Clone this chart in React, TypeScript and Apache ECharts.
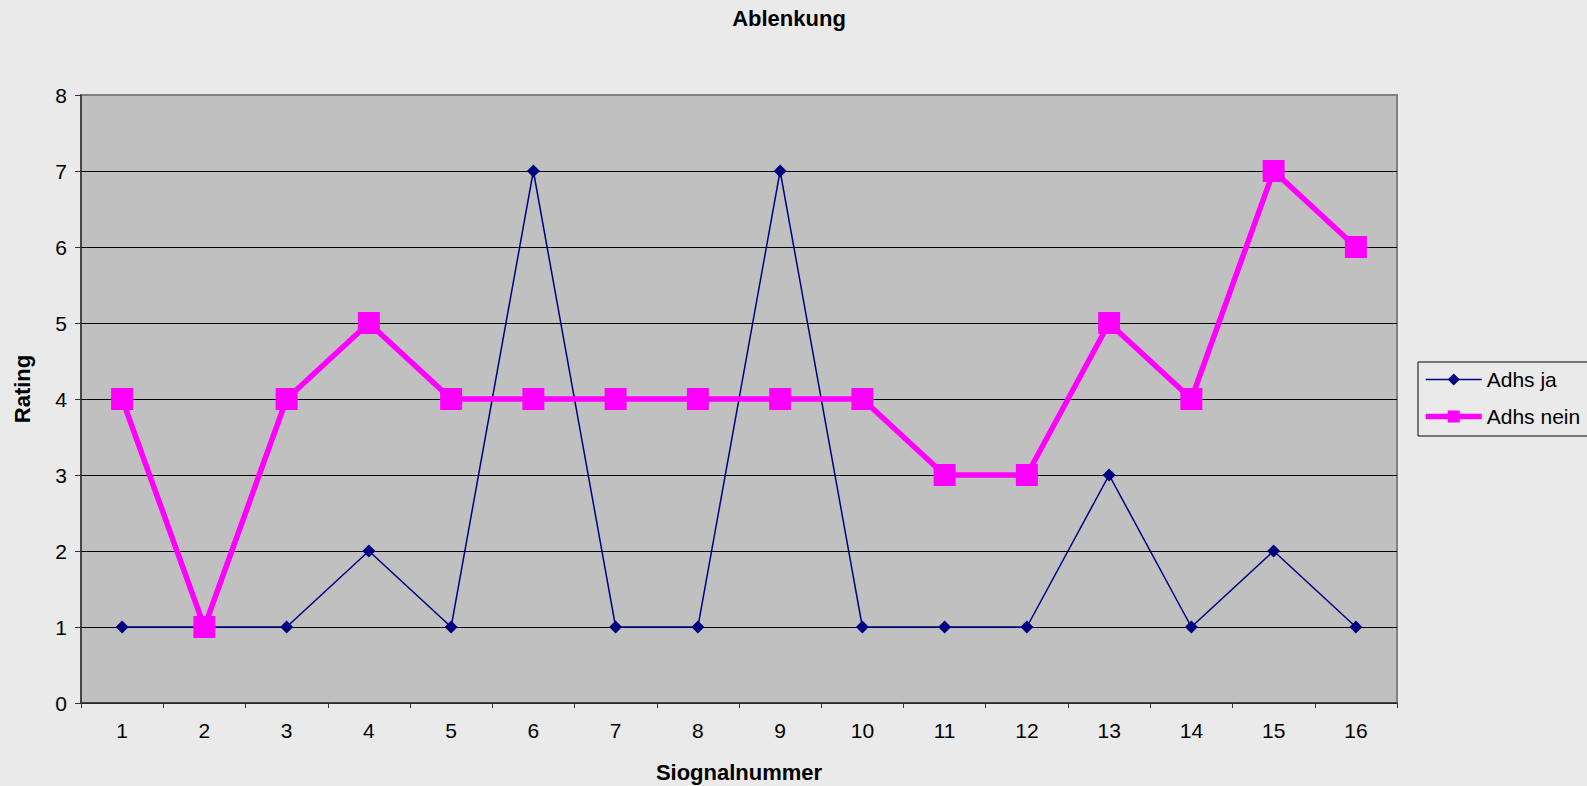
import React, { useEffect, useRef } from "react";
import * as echarts from "echarts";

const categories = ["1", "2", "3", "4", "5", "6", "7", "8", "9", "10", "11", "12", "13", "14", "15", "16"];
const adhsJa = [1, 1, 1, 2, 1, 7, 1, 1, 7, 1, 1, 1, 3, 1, 2, 1];
const adhsNein = [4, 1, 4, 5, 4, 4, 4, 4, 4, 4, 3, 3, 5, 4, 7, 6];
const seriesNames = ["Adhs ja", "Adhs nein"];
const titleText = "Ablenkung";
const xName = "Siognalnummer";
const yName = "Rating";

const FONT = "'Liberation Sans', Arial, sans-serif";

export default function App() {
  const ref = useRef<HTMLDivElement>(null);
  useEffect(() => {
    document.body.style.margin = "0";
    const chart = echarts.init(ref.current!, null, { renderer: "svg" });
    chart.setOption({
      animation: false,
      backgroundColor: "#eaeaea",
      textStyle: { fontFamily: FONT },
      graphic: [
        {
          type: "text",
          x: 789,
          y: 18,
          style: { text: titleText, fontSize: 22, fontWeight: "bold", fontFamily: FONT, fill: "#000", align: "center", verticalAlign: "middle" },
        },
        {
          type: "text",
          x: 739,
          y: 772,
          style: { text: xName, fontSize: 22, fontWeight: "bold", fontFamily: FONT, fill: "#000", align: "center", verticalAlign: "middle" },
        },
        {
          type: "text",
          x: 22,
          y: 389,
          rotation: Math.PI / 2,
          style: { text: yName, fontSize: 22, fontWeight: "bold", fontFamily: FONT, fill: "#000", align: "center", verticalAlign: "middle" },
        },
      ],
      grid: {
        left: 81,
        top: 95,
        width: 1316,
        height: 608,
        show: true,
        backgroundColor: "#c0c0c0",
        borderColor: "#808080",
        borderWidth: 2,
      },
      legend: {
        orient: "vertical",
        left: 1418,
        top: 362,
        padding: [7, 8, 9, 5],
        itemGap: 16,
        itemWidth: 56,
        itemHeight: 15,
        borderColor: "#000",
        borderWidth: 1,
        lineStyle: { width: "inherit" },
        textStyle: { fontSize: 21, color: "#000", fontFamily: FONT },
        data: seriesNames,
      },
      xAxis: {
        type: "category",
        data: categories,
        boundaryGap: true,
        axisLine: { show: true, lineStyle: { color: "#333", width: 1.5 } },
        axisTick: { show: true, length: 5, lineStyle: { color: "#333" } },
        axisLabel: { fontSize: 21, color: "#000", margin: 17, fontFamily: FONT },
        splitLine: { show: false },
      },
      yAxis: {
        type: "value",
        min: 0,
        max: 8,
        interval: 1,
        axisLine: { show: true, lineStyle: { color: "#333", width: 1.5 } },
        axisTick: { show: true, length: 6, lineStyle: { color: "#333" } },
        axisLabel: { fontSize: 21, color: "#000", margin: 14, fontFamily: FONT },
        splitLine: {
          show: true,
          lineStyle: {
            color: ["#000", "#000", "#000", "#000", "#000", "#000", "#000", "#000", "#808080"],
            width: 1,
          },
        },
      },
      series: [
        {
          name: seriesNames[0],
          type: "line",
          data: adhsJa,
          symbol: "diamond",
          symbolSize: 13,
          lineStyle: { color: "#000080", width: 1.5 },
          itemStyle: { color: "#000080" },
        },
        {
          name: seriesNames[1],
          type: "line",
          data: adhsNein,
          symbol: "rect",
          symbolSize: 22,
          lineStyle: { color: "#ff00ff", width: 5.5 },
          itemStyle: { color: "#ff00ff" },
        },
      ],
    });
    return () => chart.dispose();
  }, []);
  return <div ref={ref} style={{ width: 1587, height: 786 }} />;
}
